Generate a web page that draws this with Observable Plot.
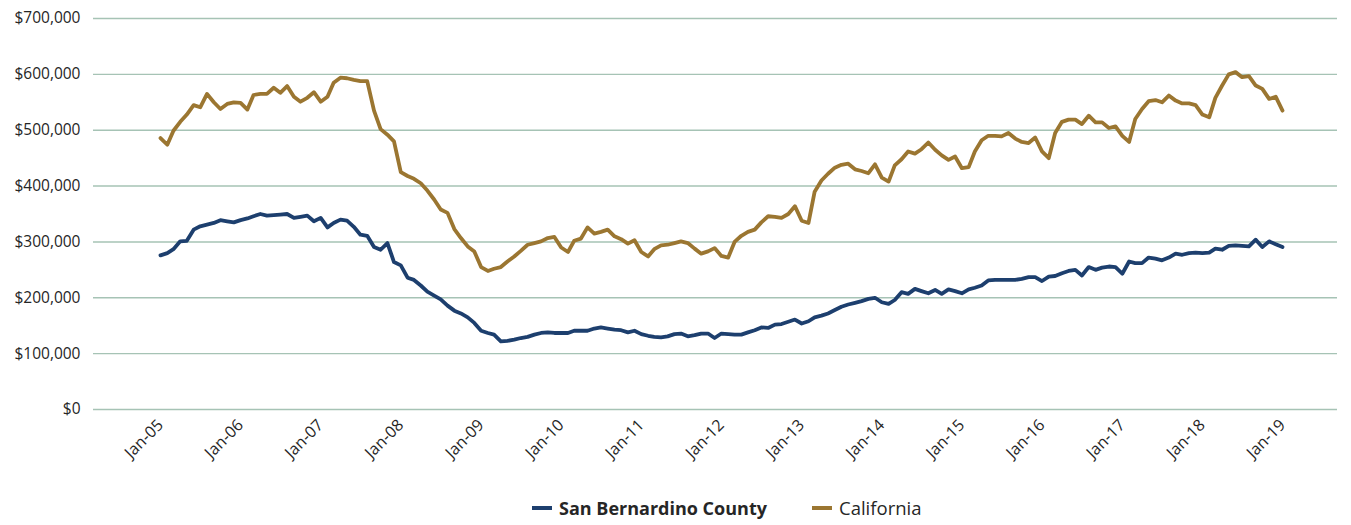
<!DOCTYPE html>
<html><head><meta charset="utf-8">
<script src="https://cdn.jsdelivr.net/npm/d3@7"></script>
<script src="https://cdn.jsdelivr.net/npm/@observablehq/plot@0.6"></script>
<style>
body{margin:0;background:#fff;font-family:"Open Sans",sans-serif;color:#262626;}
#legend{position:relative;height:35px;width:1351px;}
.item{position:absolute;top:0;height:35px;display:flex;align-items:center;font-size:18px;white-space:nowrap;}
.sw{display:inline-block;width:20px;height:4px;margin-right:7px;}
</style></head><body>
<div id="chart"></div>
<div id="legend"></div>
<script>
// Monthly median home price, Jan-05 .. Jan-19
const firstMonth = "2005-01";
const seriesNames = ["San Bernardino County", "California"];
const seriesColors = ["#1d3f6e", "#9b7631"];
const sanBernardino = [
276000,280000,287000,301000,302000,322000,328000,331000,334000,339000,337000,335000,
339000,342000,346000,350000,347000,348000,349000,350000,343000,345000,347000,337000,
343000,326000,334000,340000,338000,327000,313000,311000,291000,286000,298000,264000,
258000,236000,232000,222000,211000,204000,197000,186000,177000,172000,165000,155000,
141000,137000,134000,122000,123000,125000,128000,130000,134000,137000,138000,137000,
137000,137000,141000,141000,141000,145000,147000,145000,143000,142000,138000,141000,
135000,132000,130000,129000,131000,135000,136000,131000,133000,136000,136000,128000,
136000,135000,134000,134000,138000,142000,147000,146000,152000,153000,157000,161000,
154000,158000,165000,168000,172000,178000,184000,188000,191000,194000,198000,200000,
192000,189000,196000,210000,207000,216000,212000,208000,214000,207000,215000,212000,
208000,215000,218000,222000,231000,232000,232000,232000,232000,234000,237000,237000,
230000,238000,239000,244000,248000,250000,240000,255000,250000,254000,256000,255000,
243000,265000,262000,262000,272000,270000,267000,272000,279000,277000,280000,281000,
280000,281000,288000,286000,293000,294000,293000,292000,304000,291000,301000,296000,
291000];
const california = [
486000,474000,499000,515000,528000,545000,541000,565000,550000,538000,547000,550000,
549000,537000,563000,565000,565000,576000,567000,579000,560000,551000,558000,568000,
551000,560000,585000,594000,593000,590000,588000,588000,535000,502000,492000,480000,
425000,418000,413000,405000,392000,376000,358000,352000,323000,307000,292000,283000,
255000,248000,252000,255000,265000,274000,284000,295000,298000,301000,307000,309000,
290000,282000,302000,306000,326000,315000,318000,322000,310000,305000,297000,303000,
282000,274000,287000,294000,295000,298000,301000,298000,288000,279000,283000,289000,
275000,272000,300000,311000,318000,322000,335000,346000,345000,343000,350000,364000,
338000,334000,390000,410000,422000,433000,438000,440000,430000,427000,423000,439000,
415000,408000,437000,448000,462000,458000,466000,478000,465000,455000,447000,453000,
432000,434000,462000,482000,490000,490000,489000,495000,485000,479000,477000,487000,
462000,450000,495000,515000,519000,519000,511000,526000,514000,514000,504000,507000,
490000,479000,520000,538000,552000,554000,550000,562000,553000,548000,548000,545000,
528000,523000,558000,580000,600000,604000,595000,597000,580000,574000,556000,560000,
535000];
const xTickYears = [2005,2006,2007,2008,2009,2010,2011,2012,2013,2014,2015,2016,2017,2018,2019];
const xTickLabels = ["Jan-05","Jan-06","Jan-07","Jan-08","Jan-09","Jan-10","Jan-11","Jan-12","Jan-13","Jan-14","Jan-15","Jan-16","Jan-17","Jan-18","Jan-19"];
const yTicks = [0,100000,200000,300000,400000,500000,600000,700000];
const yTickLabels = ["$0","$100,000","$200,000","$300,000","$400,000","$500,000","$600,000","$700,000"];

const start = new Date(firstMonth + "-01T00:00:00Z");
const toRows = (vals) => vals.map((v, i) => ({date: d3.utcMonth.offset(start, i), value: v}));
const rowsSB = toRows(sanBernardino);
const rowsCA = toRows(california);
const tickDates = xTickYears.map(y => new Date(Date.UTC(y, 0, 1)));

const chart = Plot.plot({
  width: 1351, height: 490,
  marginTop: 18, marginBottom: 81, marginLeft: 93, marginRight: 14,
  style: {fontFamily: "'Open Sans', sans-serif", fontSize: "15.5px", color: "#262626", background: "white", overflow: "visible"},
  x: {type: "utc", domain: [tickDates[0], tickDates[tickDates.length - 1]], range: [160, 1282]},
  y: {domain: [0, 700000]},
  marks: [
    Plot.ruleY(yTicks, {stroke: "#a6c3b5", strokeWidth: 1.4}),
    Plot.axisY({ticks: yTicks, tickFormat: d => yTickLabels[yTicks.indexOf(d)], tickSize: 0, tickPadding: 13, label: null, fontSize: 15.5}),
    Plot.axisX({ticks: tickDates, tickFormat: d => xTickLabels[xTickYears.indexOf(d.getUTCFullYear())], tickRotate: -45, tickSize: 0, tickPadding: 13, label: null, fontSize: 16}),
    Plot.line(rowsCA, {x: "date", y: "value", stroke: seriesColors[1], strokeWidth: 3.8, strokeLinejoin: "round", strokeLinecap: "round"}),
    Plot.line(rowsSB, {x: "date", y: "value", stroke: seriesColors[0], strokeWidth: 3.8, strokeLinejoin: "round", strokeLinecap: "round"})
  ]
});
document.getElementById("chart").appendChild(chart);

const legend = document.getElementById("legend");
const lefts = [532, 812];
seriesNames.forEach((name, i) => {
  const it = document.createElement("div");
  it.className = "item";
  it.style.left = lefts[i] + "px";
  if (i === 0) it.style.fontWeight = "700";
  else it.style.fontSize = "18.5px";
  const sw = document.createElement("span");
  sw.className = "sw";
  sw.style.background = seriesColors[i];
  it.appendChild(sw);
  it.appendChild(document.createTextNode(name));
  legend.appendChild(it);
});
</script>
</body></html>
